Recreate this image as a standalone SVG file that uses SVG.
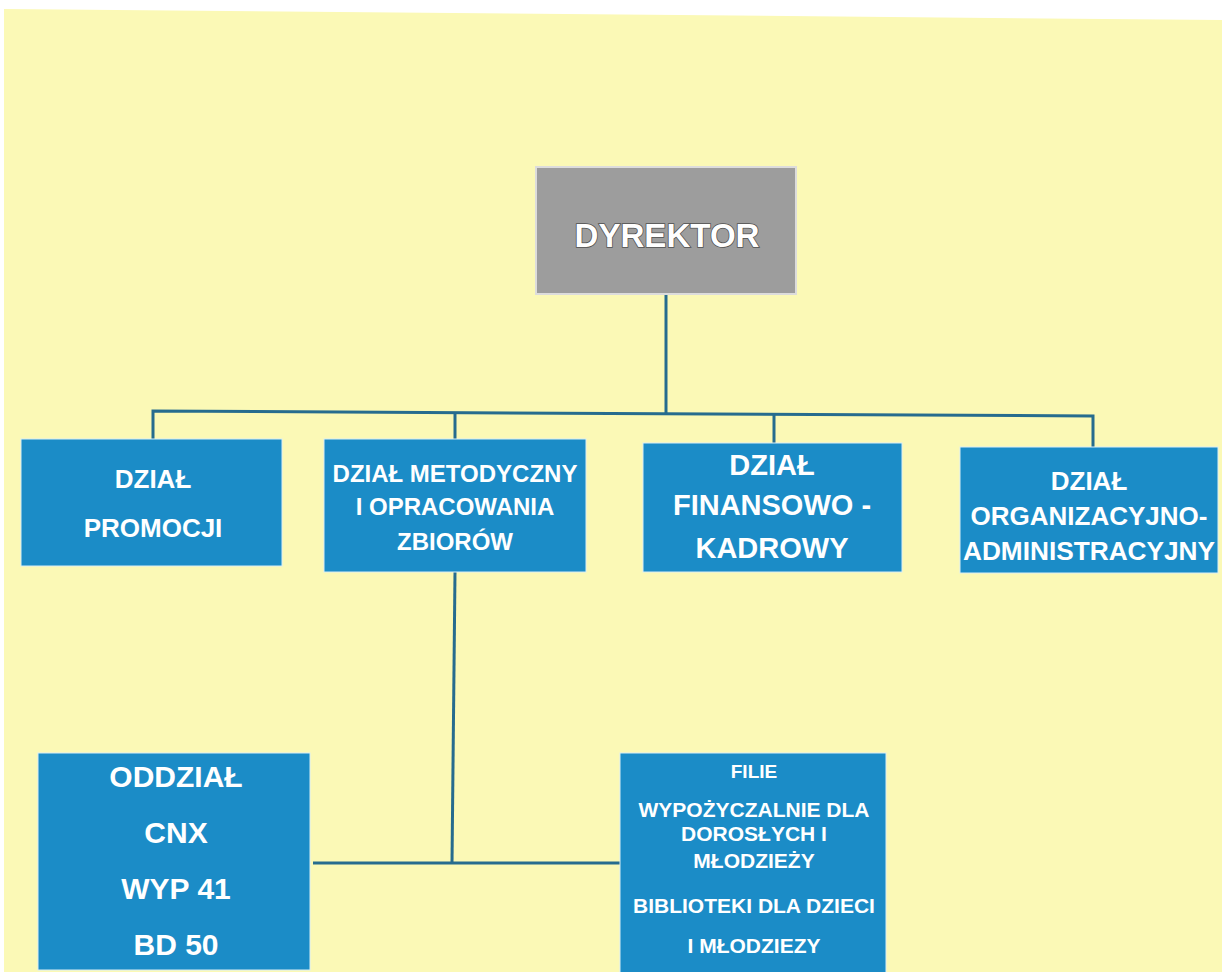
<svg xmlns="http://www.w3.org/2000/svg" width="1225" height="972" viewBox="0 0 1225 972">
<style>
.bg{fill:#fbf9b6}
.box{fill:#1b8cc7;stroke:#d9eef5;stroke-width:1}
.dir{fill:#9d9d9d;stroke:#dcdcdc;stroke-width:2}
.t{font-family:"Liberation Sans",Arial,sans-serif;font-weight:bold;fill:#ffffff;text-anchor:middle}
.dt{font-family:"Liberation Sans",Arial,sans-serif;font-weight:bold;fill:#ffffff;stroke:#505050;stroke-width:1.6;paint-order:stroke;text-anchor:middle}
.c{fill:none;stroke:#266c8e;stroke-width:3}
</style>
<rect x="0" y="0" width="1225" height="972" fill="#ffffff"/>
<polygon class="bg" points="4,9 1222,20 1222,972 4,972"/>
<g id="connectors">
<path class="c" d="M666,294 V413"/>
<path class="c" d="M153,439 V411 L1093,416 V447"/>
<path class="c" d="M455,412 V439"/>
<path class="c" d="M774,414 V443"/>
<path class="c" d="M455,572 L452,863"/>
<path class="c" d="M313,863 H620"/>
</g>
<g id="dyrektor">
<rect class="dir" x="536" y="167" width="260" height="127"/>
<text class="dt" x="667" y="247" font-size="34" textLength="185" lengthAdjust="spacingAndGlyphs">DYREKTOR</text>
</g>
<g id="dzial-promocji">
<rect class="box" x="21" y="439" width="261" height="127"/>
<text class="t" x="153" y="488" font-size="26">DZIAŁ</text>
<text class="t" x="153" y="537" font-size="26">PROMOCJI</text>
</g>
<g id="dzial-metodyczny">
<rect class="box" x="324" y="439" width="262" height="133"/>
<text class="t" x="455" y="482" font-size="24">DZIAŁ METODYCZNY</text>
<text class="t" x="455" y="515" font-size="24">I OPRACOWANIA</text>
<text class="t" x="455" y="550" font-size="24">ZBIORÓW</text>
</g>
<g id="dzial-finansowo">
<rect class="box" x="643" y="443" width="259" height="129"/>
<text class="t" x="772" y="475" font-size="29">DZIAŁ</text>
<text class="t" x="772" y="515" font-size="29">FINANSOWO -</text>
<text class="t" x="772" y="558" font-size="29">KADROWY</text>
</g>
<g id="dzial-organizacyjno">
<rect class="box" x="960" y="447" width="258" height="126"/>
<text class="t" x="1089" y="490" font-size="26">DZIAŁ</text>
<text class="t" x="1089" y="525" font-size="26">ORGANIZACYJNO-</text>
<text class="t" x="1089" y="560" font-size="26" textLength="252" lengthAdjust="spacingAndGlyphs">ADMINISTRACYJNY</text>
</g>
<g id="oddzial">
<rect class="box" x="38" y="753" width="272" height="217"/>
<text class="t" x="176" y="787" font-size="30">ODDZIAŁ</text>
<text class="t" x="176" y="843" font-size="30">CNX</text>
<text class="t" x="176" y="899" font-size="30">WYP 41</text>
<text class="t" x="176" y="955" font-size="30">BD 50</text>
</g>
<g id="filie">
<rect class="box" x="620" y="753" width="266" height="222"/>
<text class="t" x="754" y="778" font-size="19">FILIE</text>
<text class="t" x="754" y="817" font-size="21">WYPOŻYCZALNIE DLA</text>
<text class="t" x="754" y="841" font-size="21">DOROSŁYCH I</text>
<text class="t" x="754" y="868" font-size="21">MŁODZIEŻY</text>
<text class="t" x="754" y="913" font-size="21">BIBLIOTEKI DLA DZIECI</text>
<text class="t" x="754" y="953" font-size="21">I MŁODZIEZY</text>
</g>
</svg>
